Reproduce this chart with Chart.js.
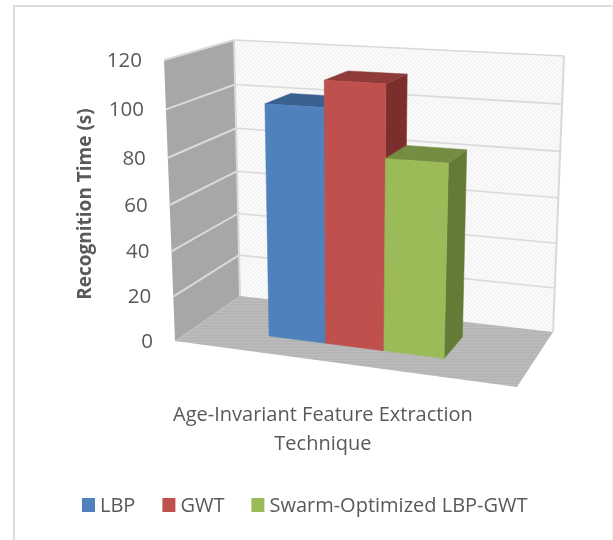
<!DOCTYPE html>
<html lang="en">
<head>
<meta charset="UTF-8">
<title>Recognition Time</title>
<script src="https://cdn.jsdelivr.net/npm/chart.js"></script>
<style>
  html, body { margin: 0; padding: 0; background: #fff; }
  canvas { display: block; }
</style>
</head>
<body>
<canvas id="chart" width="613" height="540"></canvas>
<script>
const categories = ['Age-Invariant Feature Extraction Technique'];
const seriesNames = ['LBP', 'GWT', 'Swarm-Optimized LBP-GWT'];
const lbpValues = [101];
const gwtValues = [112];
const swarmValues = [82];
const yTicks = [0, 20, 40, 60, 80, 100, 120];

const frontColors = ['#4f81bd', '#c0504d', '#9bbb59'];
const topColors = ['#3a6090', '#8e3b39', '#748d42'];
const sideColors = ['#2f4f78', '#7b2e2c', '#647b38'];
const textColor = '#595959';
const fontName = '"Open Sans", sans-serif';

// projection of the 3d box: corners of front and back planes (bl, br, tr, tl)
const frontPlane = [[175, 341], [517, 387], [530, 78], [164, 60]];
const backPlane = [[240, 296], [553, 332], [564, 56], [234, 40]];
const barDepth = [0.32, 0.73];

function planeMap(q) {
  const [[x0, y0], [x1, y1], [x2, y2], [x3, y3]] = q;
  const dx1 = x1 - x2, dx2 = x3 - x2, sx = x0 - x1 + x2 - x3;
  const dy1 = y1 - y2, dy2 = y3 - y2, sy = y0 - y1 + y2 - y3;
  const det = dx1 * dy2 - dx2 * dy1;
  const g = (sx * dy2 - dx2 * sy) / det;
  const h = (dx1 * sy - sx * dy1) / det;
  const a = x1 - x0 + g * x1, b = x3 - x0 + h * x3;
  const d = y1 - y0 + g * y1, e = y3 - y0 + h * y3;
  return (u, v) => {
    const k = g * u + h * v + 1;
    return [(a * u + b * v + x0) / k, (d * u + e * v + y0) / k];
  };
}
const front = planeMap(frontPlane);
const back = planeMap(backPlane);
function project(u, v, w) {
  const f = front(u, v), b = back(u, v);
  return [f[0] + (b[0] - f[0]) * w, f[1] + (b[1] - f[1]) * w];
}

function poly(ctx, pts, fill, stroke, lw) {
  ctx.beginPath();
  pts.forEach((p, i) => i ? ctx.lineTo(p[0], p[1]) : ctx.moveTo(p[0], p[1]));
  ctx.closePath();
  if (fill) { ctx.fillStyle = fill; ctx.fill(); }
  if (stroke) { ctx.strokeStyle = stroke; ctx.lineWidth = lw; ctx.stroke(); }
}
function line(ctx, a, b, color, lw) {
  ctx.beginPath();
  ctx.moveTo(a[0], a[1]);
  ctx.lineTo(b[0], b[1]);
  ctx.strokeStyle = color;
  ctx.lineWidth = lw;
  ctx.stroke();
}
function hatch(ctx, bg, fg, size, horizontal) {
  const c = document.createElement('canvas');
  c.width = c.height = size;
  const p = c.getContext('2d');
  p.fillStyle = bg;
  p.fillRect(0, 0, size, size);
  p.fillStyle = fg;
  for (let i = 0; i < size; i++) {
    if (horizontal) p.fillRect(i, 0, 1, 1);
    else p.fillRect(i, size - 1 - i, 1, 1);
  }
  return ctx.createPattern(c, 'repeat');
}

function drawBar(chart, i) {
  const { ctx, chartArea } = chart;
  const bar = chart.getDatasetMeta(i).data[0];
  const u1 = (bar.x - bar.width / 2 - chartArea.left) / chartArea.width;
  const u2 = (bar.x + bar.width / 2 - chartArea.left) / chartArea.width;
  const v = (chartArea.bottom - bar.y) / chartArea.height;
  const [w1, w2] = barDepth;
  poly(ctx, [project(u2, 0, w1), project(u2, v, w1), project(u2, v, w2), project(u2, 0, w2)], sideColors[i], sideColors[i], 0.5);
  poly(ctx, [project(u1, v, w1), project(u2, v, w1), project(u2, v, w2), project(u1, v, w2)], topColors[i], topColors[i], 0.5);
  poly(ctx, [project(u1, 0, w1), project(u2, 0, w1), project(u2, v, w1), project(u1, v, w1)], frontColors[i], frontColors[i], 0.5);
}

const box3d = {
  id: 'box3d',
  beforeDatasetsDraw(chart) {
    const { ctx } = chart;
    const y = chart.scales.y;
    const toV = value => (chart.chartArea.bottom - y.getPixelForValue(value)) / chart.chartArea.height;
    ctx.save();
    // frame of the chart object
    ctx.fillStyle = '#dcdcdc';
    ctx.fillRect(13, 5, 2, 535);
    ctx.fillRect(13, 5, 600, 2);
    ctx.fillStyle = '#f0f0f0';
    ctx.fillRect(612, 5, 1, 535);
    // walls and floor
    poly(ctx, [project(0, 0, 0), project(0, 1, 0), project(0, 1, 1), project(0, 0, 1)], '#a7a7a7');
    poly(ctx, [project(0, 0, 1), project(1, 0, 1), project(1, 1, 1), project(0, 1, 1)], hatch(ctx, '#fafafa', '#eeeeee', 4));
    poly(ctx, [project(0, 0, 0), project(1, 0, 0), project(1, 0, 1), project(0, 0, 1)], hatch(ctx, '#b5b5b5', '#bdbdbd', 3, true));
    // gridlines
    yTicks.forEach(t => {
      const v = toV(t);
      if (t > 0) {
        line(ctx, project(0, v, 0), project(0, v, 1), '#dadada', 2);
        line(ctx, project(0, v, 1), project(1, v, 1), '#d9d9d9', 1.6);
      }
    });
    line(ctx, project(0, 0, 1), project(0, 1, 1), '#d9d9d9', 2);
    line(ctx, project(1, 0, 1), project(1, 1, 1), '#d9d9d9', 2);
    // tick labels follow the slanted front edge of the wall
    ctx.font = '20.5px ' + fontName;
    ctx.fillStyle = textColor;
    ctx.textAlign = 'right';
    ctx.textBaseline = 'middle';
    yTicks.forEach(t => {
      const p = project(0, toV(t), 0);
      ctx.fillText(String(t), p[0] - 22, p[1] + 1);
    });
    // datasets get drawn last to first by the library, the 3d bars need first to last
    chart.data.datasets.forEach((ds, i) => drawBar(chart, i));
    // legend: the built in one forces a wider gap after the swatch
    ctx.font = '20px ' + fontName;
    ctx.textAlign = 'left';
    let x = 82;
    chart.data.datasets.forEach(ds => {
      ctx.fillStyle = ds.backgroundColor;
      ctx.fillRect(x, 498, 13, 14);
      ctx.fillStyle = textColor;
      ctx.fillText(ds.label, x + 18, 506);
      x += 18 + ctx.measureText(ds.label).width + 27;
    });
    ctx.restore();
  },
  beforeDatasetDraw() {
    return false;
  }
};

new Chart(document.getElementById('chart'), {
  type: 'bar',
  data: {
    labels: categories,
    datasets: [
      { label: seriesNames[0], data: lbpValues, backgroundColor: frontColors[0] },
      { label: seriesNames[1], data: gwtValues, backgroundColor: frontColors[1] },
      { label: seriesNames[2], data: swarmValues, backgroundColor: frontColors[2] }
    ]
  },
  options: {
    responsive: false,
    animation: false,
    layout: { padding: { top: 15, bottom: 81 } },
    datasets: { bar: { barPercentage: 1, categoryPercentage: 0.527 } },
    plugins: {
      legend: { display: false },
      tooltip: { enabled: false }
    },
    scales: {
      x: {
        grid: { display: false },
        border: { display: false },
        ticks: { display: false },
        title: {
          display: true,
          text: ['Age-Invariant Feature Extraction', 'Technique'],
          color: textColor,
          font: { family: fontName, size: 20, lineHeight: 1.45 },
          padding: { top: 0, bottom: 0 }
        }
      },
      y: {
        min: 0,
        max: 120,
        afterBuildTicks: s => { s.ticks = yTicks.map(value => ({ value })); },
        grid: { display: false },
        border: { display: false },
        ticks: { display: false },
        title: {
          display: true,
          text: 'Recognition Time (s)',
          color: textColor,
          font: { family: fontName, size: 19, weight: 'bold' },
          padding: { top: 74, bottom: 68 }
        }
      },
      // only keeps the plot centred where the axis title sits
      spacer: {
        position: 'right',
        axis: 'y',
        grid: { display: false },
        border: { display: false },
        ticks: { display: false },
        afterFit: s => { s.width = 140; }
      }
    }
  },
  plugins: [box3d]
});
</script>
</body>
</html>
